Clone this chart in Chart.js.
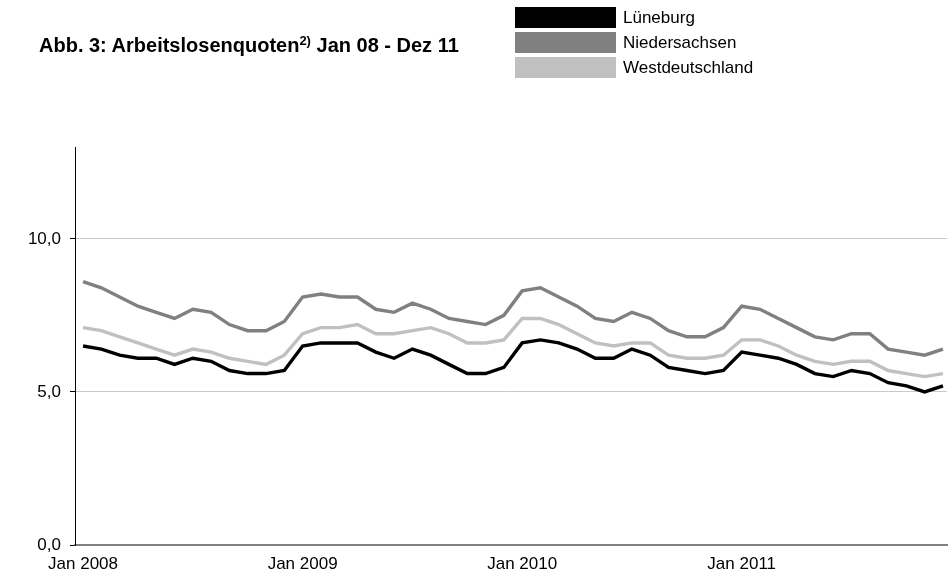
<!DOCTYPE html>
<html>
<head>
<meta charset="utf-8">
<script src="https://cdn.jsdelivr.net/npm/chart.js@4.4.1/dist/chart.umd.min.js"></script>
<style>
  body { margin: 0; background: #fff; font-family: 'Liberation Sans', Arial, sans-serif; }
  #wrap { position: relative; width: 948px; height: 571px; }
  #title { position: absolute; left: 39px; top: 34px; font-size: 20px; font-weight: bold; color: #000; white-space: nowrap; }
  #title sup { font-size: 13px; vertical-align: 7px; line-height: 0; }
  #legend { position: absolute; left: 515px; top: 7px; }
  .row { display: flex; align-items: center; height: 21px; margin-bottom: 4px; }
  .box { width: 101px; height: 21px; margin-right: 7px; }
  .lbl { font-size: 17px; color: #000; }
</style>
</head>
<body>
<div id="wrap">
  <div id="title">Abb. 3: Arbeitslosenquoten<sup>2)</sup> Jan 08 - Dez 11</div>
  <div id="legend"></div>
  <canvas id="chart" width="948" height="571"></canvas>
</div>
<script>
// Monatswerte Jan 2008 - Dez 2011 (in %)
const months = [];
['2008', '2009', '2010', '2011'].forEach(function(y) {
    ['Jan', 'Feb', 'Mrz', 'Apr', 'Mai', 'Jun', 'Jul', 'Aug', 'Sep', 'Okt', 'Nov', 'Dez'].forEach(function(m) {
        months.push(m + ' ' + y);
    });
});

const seriesNames = ['Lüneburg', 'Niedersachsen', 'Westdeutschland'];
const seriesColors = ['#000000', '#808080', '#c0c0c0'];

const lueneburg = [
    6.5, 6.4, 6.2, 6.1, 6.1, 5.9, 6.1, 6.0, 5.7, 5.6, 5.6, 5.7,
    6.5, 6.6, 6.6, 6.6, 6.3, 6.1, 6.4, 6.2, 5.9, 5.6, 5.6, 5.8,
    6.6, 6.7, 6.6, 6.4, 6.1, 6.1, 6.4, 6.2, 5.8, 5.7, 5.6, 5.7,
    6.3, 6.2, 6.1, 5.9, 5.6, 5.5, 5.7, 5.6, 5.3, 5.2, 5.0, 5.2
];
const niedersachsen = [
    8.6, 8.4, 8.1, 7.8, 7.6, 7.4, 7.7, 7.6, 7.2, 7.0, 7.0, 7.3,
    8.1, 8.2, 8.1, 8.1, 7.7, 7.6, 7.9, 7.7, 7.4, 7.3, 7.2, 7.5,
    8.3, 8.4, 8.1, 7.8, 7.4, 7.3, 7.6, 7.4, 7.0, 6.8, 6.8, 7.1,
    7.8, 7.7, 7.4, 7.1, 6.8, 6.7, 6.9, 6.9, 6.4, 6.3, 6.2, 6.4
];
const westdeutschland = [
    7.1, 7.0, 6.8, 6.6, 6.4, 6.2, 6.4, 6.3, 6.1, 6.0, 5.9, 6.2,
    6.9, 7.1, 7.1, 7.2, 6.9, 6.9, 7.0, 7.1, 6.9, 6.6, 6.6, 6.7,
    7.4, 7.4, 7.2, 6.9, 6.6, 6.5, 6.6, 6.6, 6.2, 6.1, 6.1, 6.2,
    6.7, 6.7, 6.5, 6.2, 6.0, 5.9, 6.0, 6.0, 5.7, 5.6, 5.5, 5.6
];

const xTickIdx = [0, 12, 24, 36];
const yTicks = [0, 5, 10];

// Legende (HTML)
const legend = document.getElementById('legend');
seriesNames.forEach(function(name, i) {
    const row = document.createElement('div');
    row.className = 'row';
    row.innerHTML = '<div class="box" style="background:' + seriesColors[i] + '"></div><span class="lbl">' + name + '</span>';
    legend.appendChild(row);
});

function toPoints(arr) {
    return arr.map(function(v, i) { return { x: i, y: v }; });
}

// Westdeutschland zuerst zeichnen, Lüneburg oben drauf
const allData = [lueneburg, niedersachsen, westdeutschland];
const datasets = [2, 1, 0].map(function(i) {
    return {
        label: seriesNames[i],
        data: toPoints(allData[i]),
        borderColor: seriesColors[i],
        borderWidth: 3.4,
        pointRadius: 0,
        tension: 0,
        fill: false
    };
});

Chart.defaults.font.family = "'Liberation Sans', Arial, sans-serif";
Chart.defaults.font.size = 17;
Chart.defaults.color = '#000';

new Chart(document.getElementById('chart').getContext('2d'), {
    type: 'line',
    data: { datasets: datasets },
    options: {
        responsive: false,
        animation: false,
        layout: { padding: { top: 147, right: 1, left: 0, bottom: 0 } },
        plugins: { legend: { display: false }, tooltip: { enabled: false } },
        scales: {
            x: {
                type: 'linear',
                min: -0.44,
                max: 47.22,
                afterFit: function(scale) { scale.height = 26; },
                afterBuildTicks: function(scale) {
                    scale.ticks = xTickIdx.map(function(v) { return { value: v }; });
                },
                ticks: {
                    padding: 1,
                    maxRotation: 0,
                    autoSkip: false,
                    callback: function(v) { return months[v]; }
                },
                grid: { display: false },
                border: { display: true, color: '#808080', width: 2 }
            },
            y: {
                min: 0,
                max: 13,
                afterFit: function(scale) { scale.width = 75; },
                afterBuildTicks: function(scale) {
                    scale.ticks = yTicks.map(function(v) { return { value: v }; });
                },
                ticks: {
                    padding: 9,
                    callback: function(v) { return v.toFixed(1).replace('.', ','); }
                },
                grid: { color: '#c8c8c8', lineWidth: 1, tickLength: 5, tickColor: '#000' },
                border: { display: true, color: '#000', width: 1 }
            }
        }
    }
});
</script>
</body>
</html>
